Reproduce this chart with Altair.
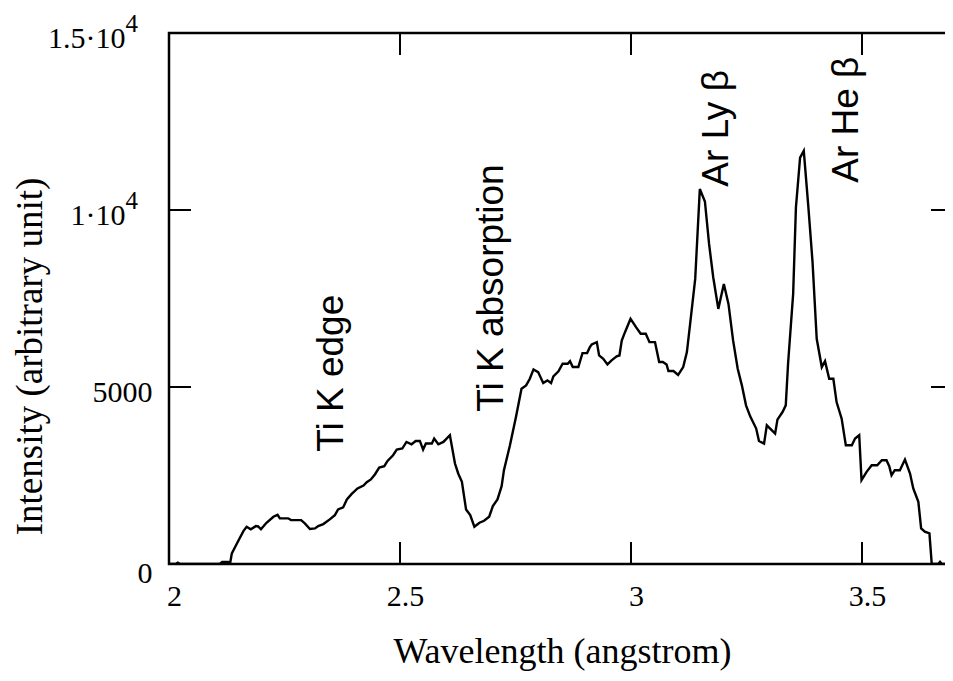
import json
import altair as alt
import pandas as pd

# ---- data ----
wavelength = [
    2.000, 2.015, 2.019, 2.024, 2.110, 2.115, 2.128, 2.132, 2.136, 2.147,
    2.161, 2.168, 2.177, 2.188, 2.193, 2.199, 2.211, 2.226, 2.235, 2.240,
    2.258, 2.264, 2.286, 2.294, 2.305, 2.316, 2.323, 2.334, 2.348, 2.359,
    2.366, 2.377, 2.385, 2.395, 2.408, 2.421, 2.428, 2.437, 2.446, 2.455,
    2.466, 2.473, 2.485, 2.493, 2.505, 2.514, 2.525, 2.534, 2.543, 2.550,
    2.556, 2.569, 2.574, 2.583, 2.594, 2.608, 2.619, 2.626, 2.634, 2.643,
    2.652, 2.661, 2.672, 2.682, 2.693, 2.701, 2.711, 2.720, 2.725, 2.738,
    2.751, 2.763, 2.773, 2.781, 2.789, 2.799, 2.810, 2.819, 2.827, 2.832,
    2.843, 2.852, 2.863, 2.868, 2.874, 2.886, 2.895, 2.905, 2.911, 2.915,
    2.926, 2.931, 2.940, 2.949, 2.958, 2.969, 2.975, 2.980, 2.987, 2.999,
    3.012, 3.021, 3.032, 3.040, 3.052, 3.061, 3.069, 3.077, 3.081, 3.092,
    3.102, 3.113, 3.121, 3.128, 3.139, 3.149, 3.160, 3.169, 3.178, 3.189,
    3.201, 3.211, 3.221, 3.231, 3.240, 3.249, 3.258, 3.271, 3.277, 3.288,
    3.294, 3.305, 3.312, 3.317, 3.328, 3.335, 3.340, 3.351, 3.357, 3.366,
    3.374, 3.384, 3.393, 3.402, 3.413, 3.420, 3.429, 3.438, 3.445, 3.456,
    3.465, 3.478, 3.485, 3.494, 3.499, 3.510, 3.521, 3.533, 3.543, 3.553,
    3.559, 3.564, 3.571, 3.582, 3.593, 3.604, 3.611, 3.622, 3.628, 3.636,
    3.646, 3.651, 3.665, 3.669, 3.673, 3.697,
]
intensity = [
    0, 0, 40, 0, 0, 60, 60, 0, 300, 580,
    930, 1050, 980, 1070, 1060, 980, 1165, 1335, 1390, 1290,
    1290, 1240, 1240, 1147, 987, 1006, 1071, 1128, 1260, 1381,
    1542, 1598, 1824, 1973, 2134, 2218, 2312, 2388, 2537, 2726,
    2763, 2912, 3073, 3233, 3262, 3448, 3383, 3476, 3476, 3233,
    3402, 3402, 3543, 3383, 3448, 3637, 2839, 2557, 2321, 1542,
    1381, 1052, 1165, 1222, 1335, 1635, 1824, 2199, 2650, 3355,
    4152, 4953, 5046, 5234, 5497, 5421, 5111, 5187, 5111, 5300,
    5441, 5658, 5658, 5731, 5563, 5563, 5957, 5957, 6126, 6200,
    6267, 5892, 5798, 5638, 5751, 5864, 5890, 6315, 6549, 6925,
    6672, 6503, 6503, 6267, 6267, 5705, 5705, 5638, 5450, 5450,
    5340, 5563, 5986, 6785, 8054, 10591, 10242, 9040, 8100, 7207,
    7912, 7348, 6315, 5517, 5046, 4482, 4172, 3825, 3476, 3402,
    3918, 3777, 3684, 4078, 4293, 4482, 5658, 7631, 10072, 11481,
    11670, 10072, 8522, 6362, 5563, 5731, 5234, 5234, 4575, 4106,
    3355, 3355, 3543, 3637, 2368, 2602, 2791, 2791, 2932, 2932,
    2763, 2509, 2650, 2650, 2951, 2557, 2134, 1757, 1006, 912,
    865, 0, 0, 60, 0, 0,
]

x_ticks = [2.0, 2.5, 3.0, 3.5]
x_tick_labels = ["2", "2.5", "3", "3.5"]
y_ticks = [0, 5000, 10000, 15000]
# mantissa part of the y tick labels; the exponent is drawn as a superscript
y_tick_labels = ["0", "5000", "1\u00b710", "1.5\u00b710"]
y_exp_values = [10000, 15000]
y_exp_text = ["4", "4"]

ann_text = ["Ti K edge", "Ti K absorption", "Ar Ly \u03b2", "Ar He \u03b2"]
ann_x = [2.377, 2.724, 3.211, 3.492]
ann_y = [3170, 4300, 10660, 10770]

x_domain = [2.0, 3.697]
y_domain = [0, 15000]

# ---- chart ----
W, H = 784, 531
TICK = 22
SERIF = "Liberation Serif"
SANS = "Liberation Sans"

xs = alt.Scale(domain=x_domain, nice=False, zero=False)
ys = alt.Scale(domain=y_domain, nice=False, zero=False)

def arr(v):
    return json.dumps(v, ensure_ascii=False)

x_label_expr = f"{arr(x_tick_labels)}[indexof({arr(x_ticks)}, datum.value)]"
y_label_expr = f"{arr(y_tick_labels)}[indexof({arr(y_ticks)}, datum.value)]"

df = pd.DataFrame({"w": wavelength, "i": intensity})
xt = pd.DataFrame({"w": x_ticks})
yt = pd.DataFrame({"i": y_ticks})
ann = pd.DataFrame({"w": ann_x, "i": ann_y, "label": ann_text})
expo = pd.DataFrame({"i": y_exp_values, "e": y_exp_text})

x_axis = alt.Axis(
    values=x_ticks, labelExpr=x_label_expr, title="Wavelength (angstrom)",
    tickSize=0, domain=False, grid=False, labelFlush=False, labelOverlap=False,
    labelFont=SERIF, labelFontSize=30, labelColor="black", labelPadding=17,
    labelOffset=5, titleFont=SERIF, titleFontSize=36, titleFontWeight="normal",
    titleColor="black", titleX=393, titleY=98, titleBaseline="alphabetic",
    titleAlign="center")
y_axis = alt.Axis(
    values=y_ticks, labelExpr=y_label_expr, title="Intensity (arbitrary unit)",
    tickSize=0, domain=False, grid=False, labelFlush=False, labelOverlap=False,
    labelFont=SERIF, labelFontSize=30, labelColor="black",
    labelPadding={"condition": {"test": "datum.value >= 10000", "value": 44}, "value": 17},
    labelOffset={"condition": {"test": "datum.value == 0", "value": 9}, "value": 5},
    titleFont=SERIF, titleFontSize=37, titleFontWeight="normal",
    titleColor="black", titleX=-139, titleY=323, titleBaseline="middle",
    titleAlign="center")

line = alt.Chart(df).mark_line(color="black", strokeWidth=2.4, clip=True).encode(
    x=alt.X("w:Q", scale=xs, axis=x_axis),
    y=alt.Y("i:Q", scale=ys, axis=y_axis),
)

tick_x_bottom = alt.Chart(xt).mark_rule(color="black", strokeWidth=2).encode(
    x=alt.X("w:Q", scale=xs, axis=x_axis), y=alt.value(H), y2=alt.value(H - TICK))
tick_x_top = alt.Chart(xt).mark_rule(color="black", strokeWidth=2).encode(
    x=alt.X("w:Q", scale=xs, axis=x_axis), y=alt.value(0), y2=alt.value(TICK))
tick_y_left = alt.Chart(yt).mark_rule(color="black", strokeWidth=2).encode(
    y=alt.Y("i:Q", scale=ys, axis=y_axis), x=alt.value(0), x2=alt.value(TICK))
tick_y_right = alt.Chart(yt).mark_rule(color="black", strokeWidth=2).encode(
    y=alt.Y("i:Q", scale=ys, axis=y_axis), x=alt.value(W), x2=alt.value(W - TICK))

exponents = alt.Chart(expo).mark_text(
    align="right", baseline="middle", font=SERIF, fontSize=25, color="black",
    dx=-31, dy=-9).encode(
    x=alt.value(0),
    y=alt.Y("i:Q", scale=ys, axis=y_axis),
    text="e:N")

labels = alt.Chart(ann).mark_text(
    angle=270, align="left", baseline="alphabetic", font=SANS, fontSize=37,
    color="black").encode(
    x=alt.X("w:Q", scale=xs, axis=x_axis),
    y=alt.Y("i:Q", scale=ys, axis=y_axis),
    text="label:N")

chart = alt.layer(line, tick_x_bottom, tick_x_top, tick_y_left, tick_y_right,
                  exponents, labels).properties(
    width=W, height=H,
    autosize=alt.AutoSizeParams(type="none"),
    padding={"left": 161, "top": 25, "right": -8, "bottom": 107},
    background="white",
).configure_view(stroke="black", strokeWidth=2.5)

chart.save("out.html", embed_options={"renderer": "svg", "actions": False})
